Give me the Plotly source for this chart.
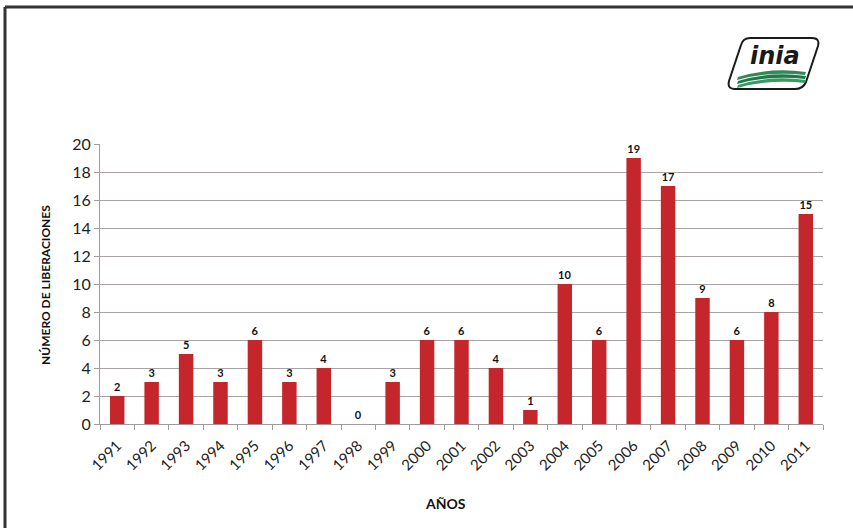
import plotly.graph_objects as go

years = [str(y) for y in range(1991, 2012)]
liberaciones = [2, 3, 5, 3, 6, 3, 4, 0, 3, 6, 6, 4, 1, 10, 6, 19, 17, 9, 6, 8, 15]
y_ticks = list(range(0, 21, 2))

W_PX, H_PX = 853, 528
M_L, M_R, M_T, M_B = 100, 30, 144, 104
PLOT_W = W_PX - M_L - M_R
PLOT_H = H_PX - M_T - M_B


def px(x):
    return (x - M_L) / PLOT_W


def py(y):
    return (H_PX - M_B - y) / PLOT_H


FONT = "Lato, 'Open Sans', sans-serif"

fig = go.Figure()
fig.add_trace(go.Bar(
    x=years,
    y=liberaciones,
    marker=dict(color="#c4262c", line=dict(color="#8e1a1d", width=0)),
    text=liberaciones,
    texttemplate="<b>%{text}</b>",
    textposition="outside",
    textfont=dict(size=11, color="#111", family=FONT),
    cliponaxis=False,
    width=0.42,
))

shapes = [
    # outer frame (top and left edges)
    dict(type="line", xref="paper", yref="paper", x0=px(5), x1=px(853),
         y0=py(7), y1=py(7), line=dict(color="#333", width=3)),
    dict(type="line", xref="paper", yref="paper", x0=px(5), x1=px(5),
         y0=py(7), y1=py(528), line=dict(color="#333", width=3)),
    # logo badge
    dict(type="path", xref="paper", yref="paper",
         path=(f"M {px(750)},{py(38)} L {px(812)},{py(38)} "
               f"Q {px(820)},{py(38)} {px(818)},{py(46)} "
               f"L {px(806)},{py(82)} Q {px(803)},{py(89)} {px(795)},{py(89)} "
               f"L {px(735)},{py(89)} Q {px(727)},{py(89)} {px(729)},{py(81)} "
               f"L {px(741)},{py(45)} Q {px(743)},{py(38)} {px(750)},{py(38)} Z"),
         line=dict(color="#1a1a1a", width=2), fillcolor="white"),
]
# green waves of the logo
for y0, col in [(70, "#2e8b57"), (74, "#1f7a4a"), (78, "#3a9a66")]:
    shapes.append(dict(
        type="path", xref="paper", yref="paper",
        path=(f"M {px(738)},{py(y0 + 7)} Q {px(770)},{py(y0 - 3)} {px(806)},{py(y0 + 2)} "
              f"L {px(805)},{py(y0 + 5)} Q {px(770)},{py(y0 + 1)} {px(737)},{py(y0 + 10)} Z"),
        line=dict(width=0), fillcolor=col))

annotations = [
    dict(text="<b>NÚMERO DE LIBERACIONES</b>", xref="paper", yref="paper",
         x=px(45), y=py(285), xanchor="center", yanchor="middle",
         textangle=-90, showarrow=False,
         font=dict(size=12, color="#111", family=FONT)),
    dict(text="<b>AÑOS</b>", xref="paper", yref="paper",
         x=px(445), y=py(504), xanchor="center", yanchor="middle",
         showarrow=False,
         font=dict(size=14, color="#111", family=FONT)),
    dict(text="<b><i>inia</i></b>", xref="paper", yref="paper",
         x=px(775), y=py(56), xanchor="center", yanchor="middle",
         showarrow=False,
         font=dict(size=24, color="#1a1a1a", family="'DejaVu Sans', sans-serif")),
]

fig.update_layout(
    width=W_PX, height=H_PX,
    margin=dict(l=M_L, r=M_R, t=M_T, b=M_B),
    paper_bgcolor="white", plot_bgcolor="white",
    showlegend=False,
    bargap=0.58,
    font=dict(family=FONT, color="#333"),
    shapes=shapes,
    annotations=annotations,
    xaxis=dict(
        type="category",
        tickangle=-45,
        tickfont=dict(size=15, color="#222"),
        ticklabelstandoff=6,
        showline=True, linecolor="#a09a9a", linewidth=1,
        ticks="outside", ticklen=5, tickcolor="#a09a9a",
        tickson="boundaries",
        showgrid=False,
    ),
    yaxis=dict(
        range=[0, 20],
        tickvals=y_ticks,
        tickfont=dict(size=16, color="#222"),
        showline=True, linecolor="#a09a9a", linewidth=1,
        ticks="outside", ticklen=5, tickcolor="#a09a9a",
        showgrid=True, gridcolor="#aaa3a3", gridwidth=1.2,
        zeroline=False,
    ),
)

fig.write_html("out.html")
